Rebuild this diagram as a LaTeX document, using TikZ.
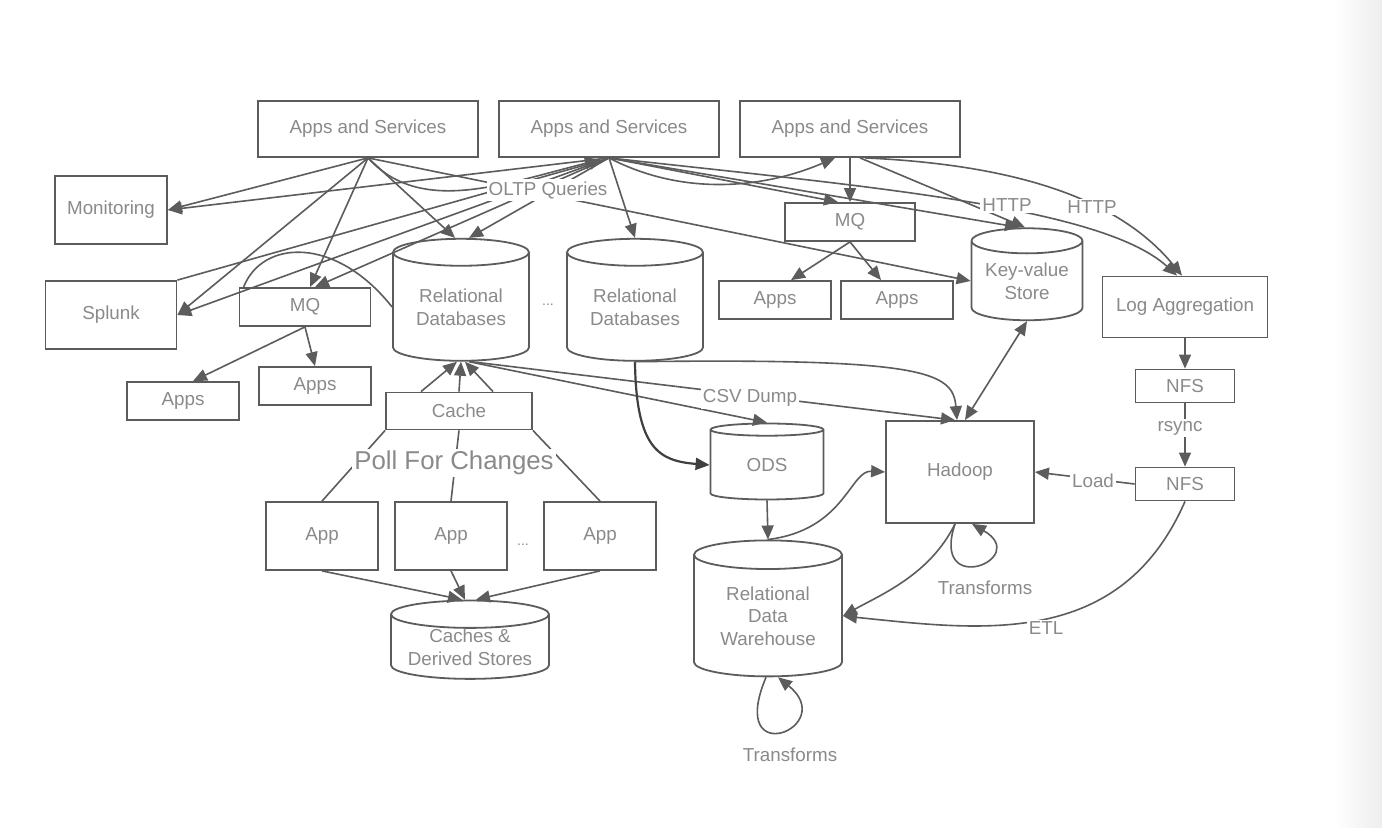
\documentclass[tikz,border=0pt]{standalone}
\usepackage{fontspec}
\setmainfont{Liberation Sans}
\usetikzlibrary{arrows.meta,shapes.geometric,calc}
\definecolor{edgegray}{HTML}{5C5C5C}
\definecolor{textgray}{HTML}{8A8A8A}
\newcommand{\diafont}{\fontsize{9.4}{11.3}\selectfont}

\begin{document}
\begin{tikzpicture}[x=0.5pt, y=-0.5pt,
	box/.style={draw=edgegray, line width=0.9pt, text=textgray, font=\diafont, inner sep=0pt, align=center},
	db/.style={cylinder, shape border rotate=90, aspect=0.3, draw=edgegray, line width=0.9pt, text=textgray, font=\diafont, inner sep=0pt, align=center},
	flow/.style={draw=edgegray, line width=0.8pt, -{Triangle[length=7pt,width=6pt]}},
	link/.style={draw=edgegray, line width=0.8pt},
	tag/.style={fill=white, text=textgray, font=\diafont, inner sep=1pt}]
	\useasboundingbox (0,0) rectangle (1382,828);
	\fill[white] (0,0) rectangle (1382,828);
	\fill[left color=white, right color=black!7] (1335,0) rectangle (1382,828);

	\node[box, minimum width=110pt, minimum height=28pt] (asA) at (368,129) {Apps and Services};
	\node[box, minimum width=110pt, minimum height=28pt] (asB) at (609,129) {Apps and Services};
	\node[box, minimum width=110pt, minimum height=28pt] (asC) at (850,129) {Apps and Services};
	\node[box, minimum width=56pt, minimum height=34pt] (monitoring) at (111,210) {Monitoring};
	\node[box, minimum width=65.5pt, minimum height=34pt] (splunk) at (111,315) {Splunk};
	\node[box, minimum width=65.5pt, minimum height=19pt] (mqL) at (305,307) {MQ};
	\node[box, minimum width=56pt, minimum height=19pt] (appsLa) at (183,401) {Apps};
	\node[box, minimum width=56pt, minimum height=19pt] (appsLb) at (315,386) {Apps};
	\node[db, minimum width=68pt, minimum height=61pt] (rdbA) at (461,307) {Relational\\Databases};
	\node[db, minimum width=68pt, minimum height=61pt] (rdbB) at (635,307) {Relational\\Databases};
	\node[box, minimum width=65pt, minimum height=19pt] (mqR) at (850,222) {MQ};
	\node[box, minimum width=56pt, minimum height=19pt] (appsRa) at (775,300) {Apps};
	\node[box, minimum width=56pt, minimum height=19pt] (appsRb) at (897,300) {Apps};
	\node[db, minimum width=55.5pt, minimum height=46pt] (kvstore) at (1027,281) {Key-value\\Store};
	\node[box, minimum width=82.5pt, minimum height=30.5pt] (logagg) at (1185,307) {Log Aggregation};
	\node[box, minimum width=49.5pt, minimum height=16.5pt] (nfsA) at (1185,386) {NFS};
	\node[box, minimum width=49.5pt, minimum height=16.5pt] (nfsB) at (1185,484) {NFS};
	\node[box, minimum width=73pt, minimum height=18.5pt] (cache) at (459,411) {Cache};
	\node[box, minimum width=56pt, minimum height=34pt] (appA) at (322,536) {App};
	\node[box, minimum width=56pt, minimum height=34pt] (appB) at (451,536) {App};
	\node[box, minimum width=56pt, minimum height=34pt] (appC) at (600,536) {App};
	\node[db, aspect=0.22, minimum width=79pt, minimum height=33pt] (derived) at (470,647) {Caches \&\\Derived Stores};
	\node[db, minimum width=56.5pt, minimum height=38pt] (ods) at (767,465) {ODS};
	\node[box, minimum width=74pt, minimum height=51pt] (hadoop) at (960,472) {Hadoop};
	\node[db, minimum width=74pt, minimum height=68pt] (rdw) at (768,616) {Relational\\Data\\Warehouse};

	\draw[flow] (asA.south) -- (monitoring.east);
	\draw[flow] (asA.south) -- (splunk.east);
	\draw[flow] (asA.south) -- ($(mqL.north)+(5,0)$);
	\draw[flow] (asA.south) -- ($(rdbA.top)+(-6,0)$);
	\draw[flow] (asA.south) -- (kvstore.180);
	\draw[flow] (asA.south) .. controls (420,215) and (500,185) .. ($(asB.south)+(-10,2)$);
	\draw[flow] (splunk.north east) -- ($(asB.south)+(-6,2)$);
	\draw[flow] (asB.south) -- (monitoring.east);
	\draw[flow] (asB.south) -- (splunk.east);
	\draw[flow] (asB.south) -- ($(mqL.north)+(10,0)$);
	\draw[flow] (asB.south) -- ($(rdbA.top)+(8,0)$);
	\draw[flow] (asB.south) -- (rdbB.top);
	\draw[flow] (asB.south) -- ($(mqR.north)+(-12,0)$);
	\draw[flow] (asB.south) -- ($(kvstore.top)+(-8,0)$);
	\draw[flow] (asB.south) .. controls (850,185) and (1100,205) .. ($(logagg.north)+(-8,0)$);
	\draw[flow] (asB.south) .. controls (680,195) and (760,190) .. ($(asC.south)+(-15,0)$);
	\draw[flow] (asC.south) -- (mqR.north);
	\draw[flow] ($(asC.south)+(10,0)$) -- ($(kvstore.top)+(-2,0)$);
	\draw[flow] ($(asC.south)+(15,0)$) .. controls (1020,165) and (1120,200) .. ($(logagg.north)+(-3,0)$);
	\draw[flow] (mqR.south) -- ($(appsRa.north)+(16,0)$);
	\draw[flow] (mqR.south) -- ($(appsRb.north)+(-16,0)$);
	\draw[flow] (mqL.south) -- ($(appsLa.north)+(10,0)$);
	\draw[flow] (mqL.south) -- (appsLb.north);
	\draw[link] ($(mqL.north west)+(5,0)$) .. controls (262,240) and (335,235) .. (rdbA.180);

	\draw[flow] ($(cache.north)+(-38,0)$) -- ($(rdbA.bottom)+(-4,0)$);
	\draw[flow] (cache.north) -- (rdbA.bottom);
	\draw[flow] ($(cache.north)+(34,0)$) -- ($(rdbA.bottom)+(4,0)$);
	\draw[link] (appA.north) -- (cache.south west);
	\draw[link] (appB.north) -- (cache.south);
	\draw[link] (appC.north) -- (cache.south east);
	\draw[flow] (appA.south) -- ($(derived.top)+(-8,0)$);
	\draw[flow] (appB.south) -- ($(derived.top)+(-5,0)$);
	\draw[flow] (appC.south) -- ($(derived.top)+(6,0)$);

	\draw[flow] ($(rdbA.bottom)+(8,0)$) -- (ods.top);
	\draw[flow] ($(rdbA.bottom)+(10,0)$) -- ($(hadoop.north)+(-5,0)$);
	\draw[flow, line width=1.1pt, draw=black!75] (rdbB.bottom) .. controls (636,450) and (660,461) .. (ods.180);
	\draw[flow] (rdbB.bottom) .. controls (925,358) and (953,372) .. ($(hadoop.north)+(-3,0)$);
	\draw[flow, {Triangle[length=7pt,width=6pt]}-{Triangle[length=7pt,width=6pt]}] (kvstore.bottom) -- ($(hadoop.north)+(5,0)$);
	\draw[flow] (ods.bottom) -- (rdw.top);
	\draw[flow] (rdw.top) .. controls (845,530) and (850,470) .. (hadoop.west);
	\draw[flow] ($(hadoop.south)+(-5,0)$) .. controls (930,575) and (880,595) .. (rdw.east);
	\draw[flow] ($(hadoop.south)+(-5,0)$) .. controls +(-25,75) and +(60,35) .. ($(hadoop.south)+(12,0)$);
	\draw[flow] ($(rdw.bottom)+(-2,0)$) .. controls +(-40,95) and +(62,50) .. ($(rdw.bottom)+(10,0)$);
	\draw[flow] (logagg.south) -- (nfsA.north);
	\draw[flow] (nfsA.south) -- (nfsB.north);
	\draw[flow] (nfsB.west) -- (hadoop.east);
	\draw[flow] (nfsB.south) .. controls (1120,650) and (980,630) .. (rdw.east);

	\node[tag] (oltp) at (548,190) {OLTP Queries};
	\node[tag] (csv) at (750,398) {CSV Dump};
	\node[tag] (httpA) at (1007,205) {HTTP};
	\node[tag] (httpB) at (1092,207) {HTTP};
	\node[tag] (rsync) at (1180,428) {rsync};
	\node[tag] (load) at (1093,481) {Load};
	\node[tag] (etl) at (1046,628) {ETL};
	\node[tag, font=\fontsize{12.9}{15}\selectfont] (poll) at (454,463) {Poll For Changes};
	\node[tag, fill=none] (trfA) at (985,588) {Transforms};
	\node[tag, fill=none] (trfB) at (790,755) {Transforms};
	\node[tag, fill=none, font=\fontsize{7}{8}\selectfont] (dotsA) at (548,305) {...};
	\node[tag, fill=none, font=\fontsize{7}{8}\selectfont] (dotsB) at (523,545) {...};
\end{tikzpicture}
\end{document}
